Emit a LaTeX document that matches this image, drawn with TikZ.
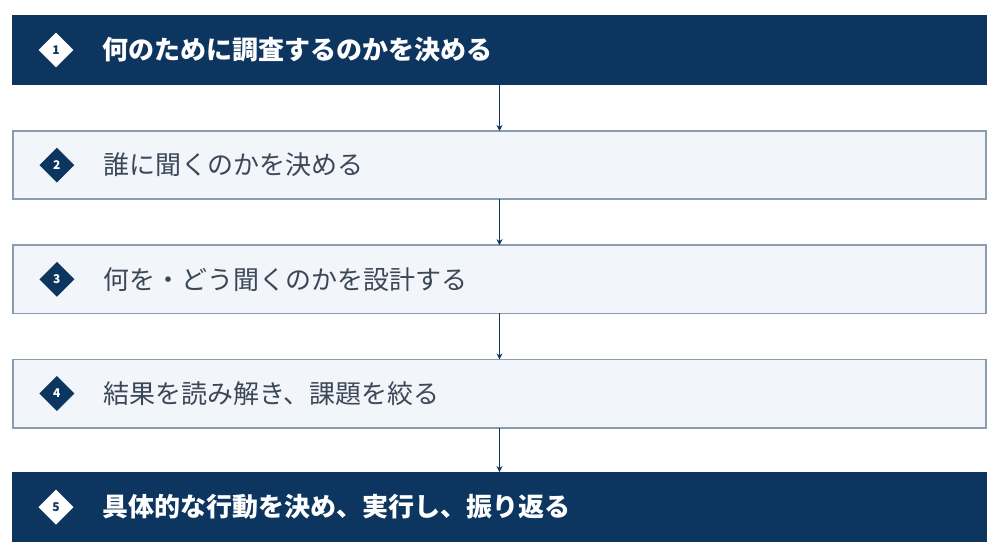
\documentclass[tikz,border=0pt]{standalone}
\usepackage{fontspec}
\setmainfont{Noto Sans CJK JP}
\usetikzlibrary{positioning,shapes.geometric,arrows.meta}

\definecolor{navy}{HTML}{0C3560}
\definecolor{paleblue}{HTML}{F2F5F9}
\definecolor{edgegray}{HTML}{8C9CB0}
\definecolor{inkgray}{HTML}{3C4858}

\begin{document}
\begin{tikzpicture}[x=1pt,y=1pt]
    \tikzset{stepbox/.style={
        minimum width=975pt, minimum height=70pt, inner sep=0pt, outer sep=0pt
      },
      darkstep/.style={stepbox, fill=navy},
      lightstep/.style={stepbox, fill=paleblue, draw=edgegray, line width=1.8pt,
        minimum width=973.2pt, minimum height=68.2pt},
      badge/.style={diamond, aspect=1, minimum size=35pt, inner sep=0pt,
        font=\fontsize{12}{12}\selectfont\bfseries},
      darkbadge/.style={badge, fill=white, text=navy},
      lightbadge/.style={badge, fill=navy, text=white},
      steptext/.style={anchor=west, inner sep=0pt, font=\fontsize{26}{26}\selectfont},
      flow/.style={draw=navy, line width=1.8pt, -{Stealth[length=6pt,width=6pt]}}
    }

    \useasboundingbox (0,0) rectangle (1000,558);

    \node[darkstep] (S1) at (499.5,508) {};
    \node[lightstep, below=46pt of S1] (S2) {};
    \node[lightstep, below=46pt of S2] (S3) {};
    \node[lightstep, below=46pt of S3] (S4) {};
    \node[darkstep, below=44.5pt of S4] (S5) {};

    \node[darkbadge]  at ([xshift=44pt]S1.west) {1};
    \node[lightbadge] at ([xshift=44pt]S2.west) {2};
    \node[lightbadge] at ([xshift=44pt]S3.west) {3};
    \node[lightbadge] at ([xshift=44pt]S4.west) {4};
    \node[darkbadge]  at ([xshift=44pt]S5.west) {5};

    \node[steptext, text=white, font=\fontsize{26}{26}\selectfont\bfseries]
      at ([xshift=90pt]S1.west) {何のために調査するのかを決める};
    \node[steptext, text=inkgray] at ([xshift=90pt]S2.west) {誰に聞くのかを決める};
    \node[steptext, text=inkgray] at ([xshift=90pt]S3.west) {何を・どう聞くのかを設計する};
    \node[steptext, text=inkgray] at ([xshift=90pt]S4.west) {結果を読み解き、課題を絞る};
    \node[steptext, text=white, font=\fontsize{26}{26}\selectfont\bfseries]
      at ([xshift=90pt]S5.west) {具体的な行動を決め、実行し、振り返る};

    \foreach \a/\b in {S1/S2, S2/S3, S3/S4, S4/S5}
      \draw[flow] (\a.south) -- (\b.north);

  \end{tikzpicture}
\end{document}
